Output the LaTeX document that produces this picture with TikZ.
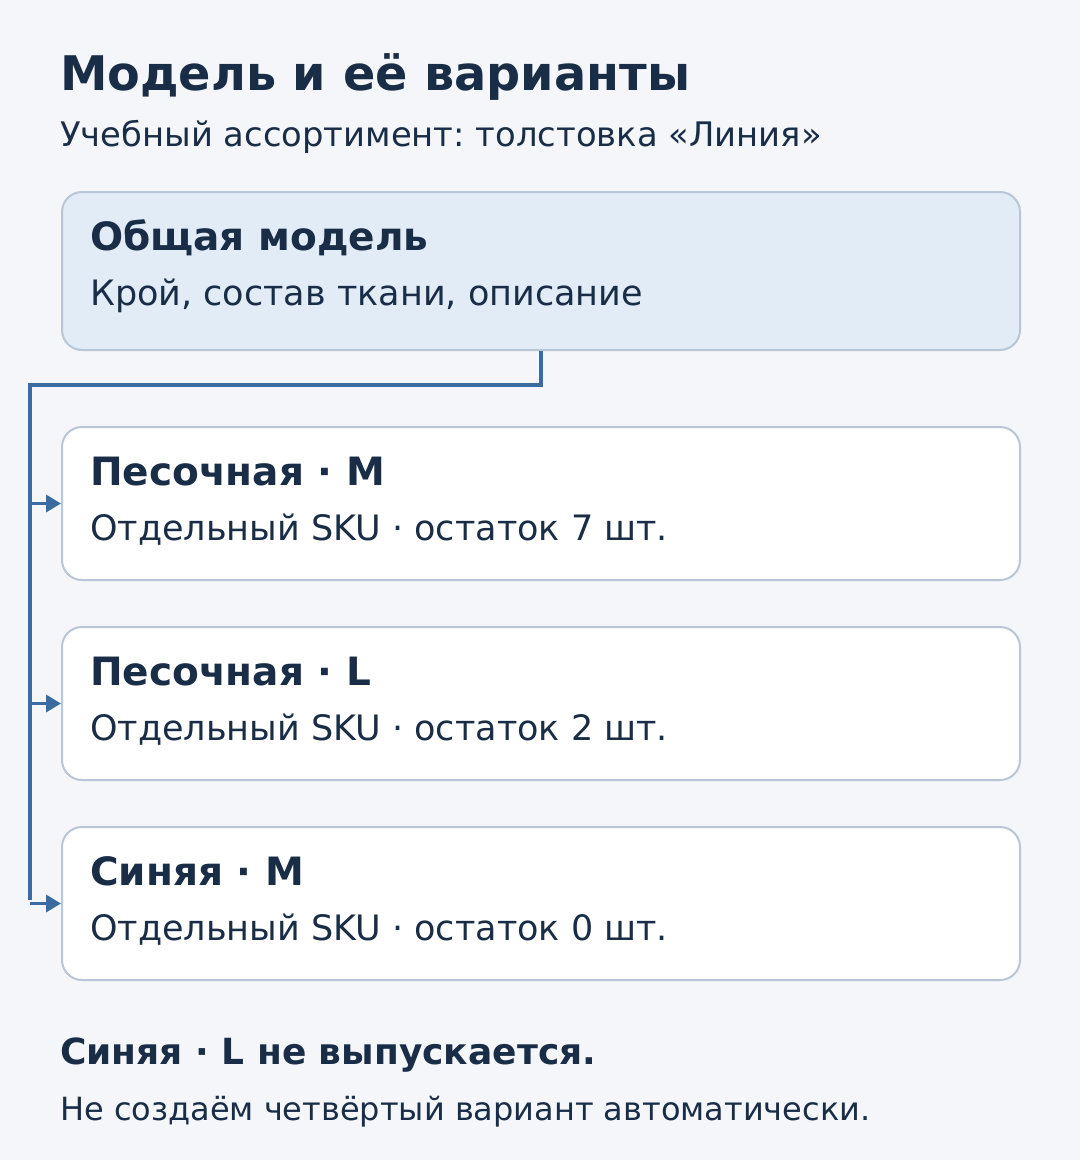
\documentclass[tikz,border=0pt]{standalone}
\usepackage{fontspec}
\setmainfont{DejaVu Sans}
\usetikzlibrary{arrows.meta}
\frenchspacing
\definecolor{bg}{HTML}{F4F6FA}
\definecolor{ink}{HTML}{1A2D47}
\definecolor{topfill}{HTML}{E2ECF7}
\definecolor{edge}{HTML}{B8C6D6}
\definecolor{wire}{HTML}{3A6CA2}
\tikzset{
  card/.style={draw=edge, line width=2pt, rounded corners=20pt, anchor=north west,
    minimum width=958pt, inner sep=0pt},
  topcard/.style={card, fill=topfill, minimum height=158pt},
  varcard/.style={card, fill=white, minimum height=153pt},
  txt/.style={anchor=base west, inner sep=0pt, text=ink},
  head/.style={txt, font=\fontsize{39}{44}\selectfont\bfseries},
  desc/.style={txt, font=\fontsize{35}{40}\selectfont},
  wireline/.style={draw=wire, line width=3.5pt},
  arr/.style={wireline, -{Triangle[length=15pt,width=17pt]}},
}
\begin{document}
\begin{tikzpicture}[x=1pt,y=-1pt]
\fill[bg] (0,0) rectangle (1080,1160);
\useasboundingbox (0,0) rectangle (1080,1160);
\node[txt, font=\fontsize{47.7}{54}\selectfont\bfseries] (title) at (60,90) {Модель и её варианты};
\node[txt, font=\fontsize{33.8}{39}\selectfont] (sub) at (60,146) {Учебный ассортимент: толстовка «Линия»};

\node[topcard] (top) at (61,191) {};
\node[head] (toph) at (90,250) {Общая модель};
\node[desc] (topd) at (90,305) {Крой, состав ткани, описание};

\node[varcard] (v1) at (61,426) {};
\node[head] (v1h) at (90,485) {Песочная · M};
\node[desc] (v1d) at (90,540) {Отдельный SKU · остаток 7 шт.};

\node[varcard] (v2) at (61,626) {};
\node[head] (v2h) at (90,685) {Песочная · L};
\node[desc] (v2d) at (90,740) {Отдельный SKU · остаток 2 шт.};

\node[varcard] (v3) at (61,826) {};
\node[head] (v3h) at (90,885) {Синяя · M};
\node[desc] (v3d) at (90,940) {Отдельный SKU · остаток 0 шт.};

\coordinate (bus) at (30,385);
\coordinate (busend) at (30,900);
\draw[wireline] (top.south) |- (bus) -- (busend);
\draw[arr] (v1.west -| bus) -- (v1.west);
\draw[arr] (v2.west -| bus) -- (v2.west);
\draw[arr] (v3.west -| bus) -- (v3.west);

\node[txt, font=\fontsize{36}{42}\selectfont\bfseries] (note) at (60,1064) {Синяя · L не выпускается.};
\node[txt, font=\fontsize{32}{37}\selectfont] (note2) at (60,1120) {Не создаём четвёртый вариант автоматически.};
\end{tikzpicture}
\end{document}
